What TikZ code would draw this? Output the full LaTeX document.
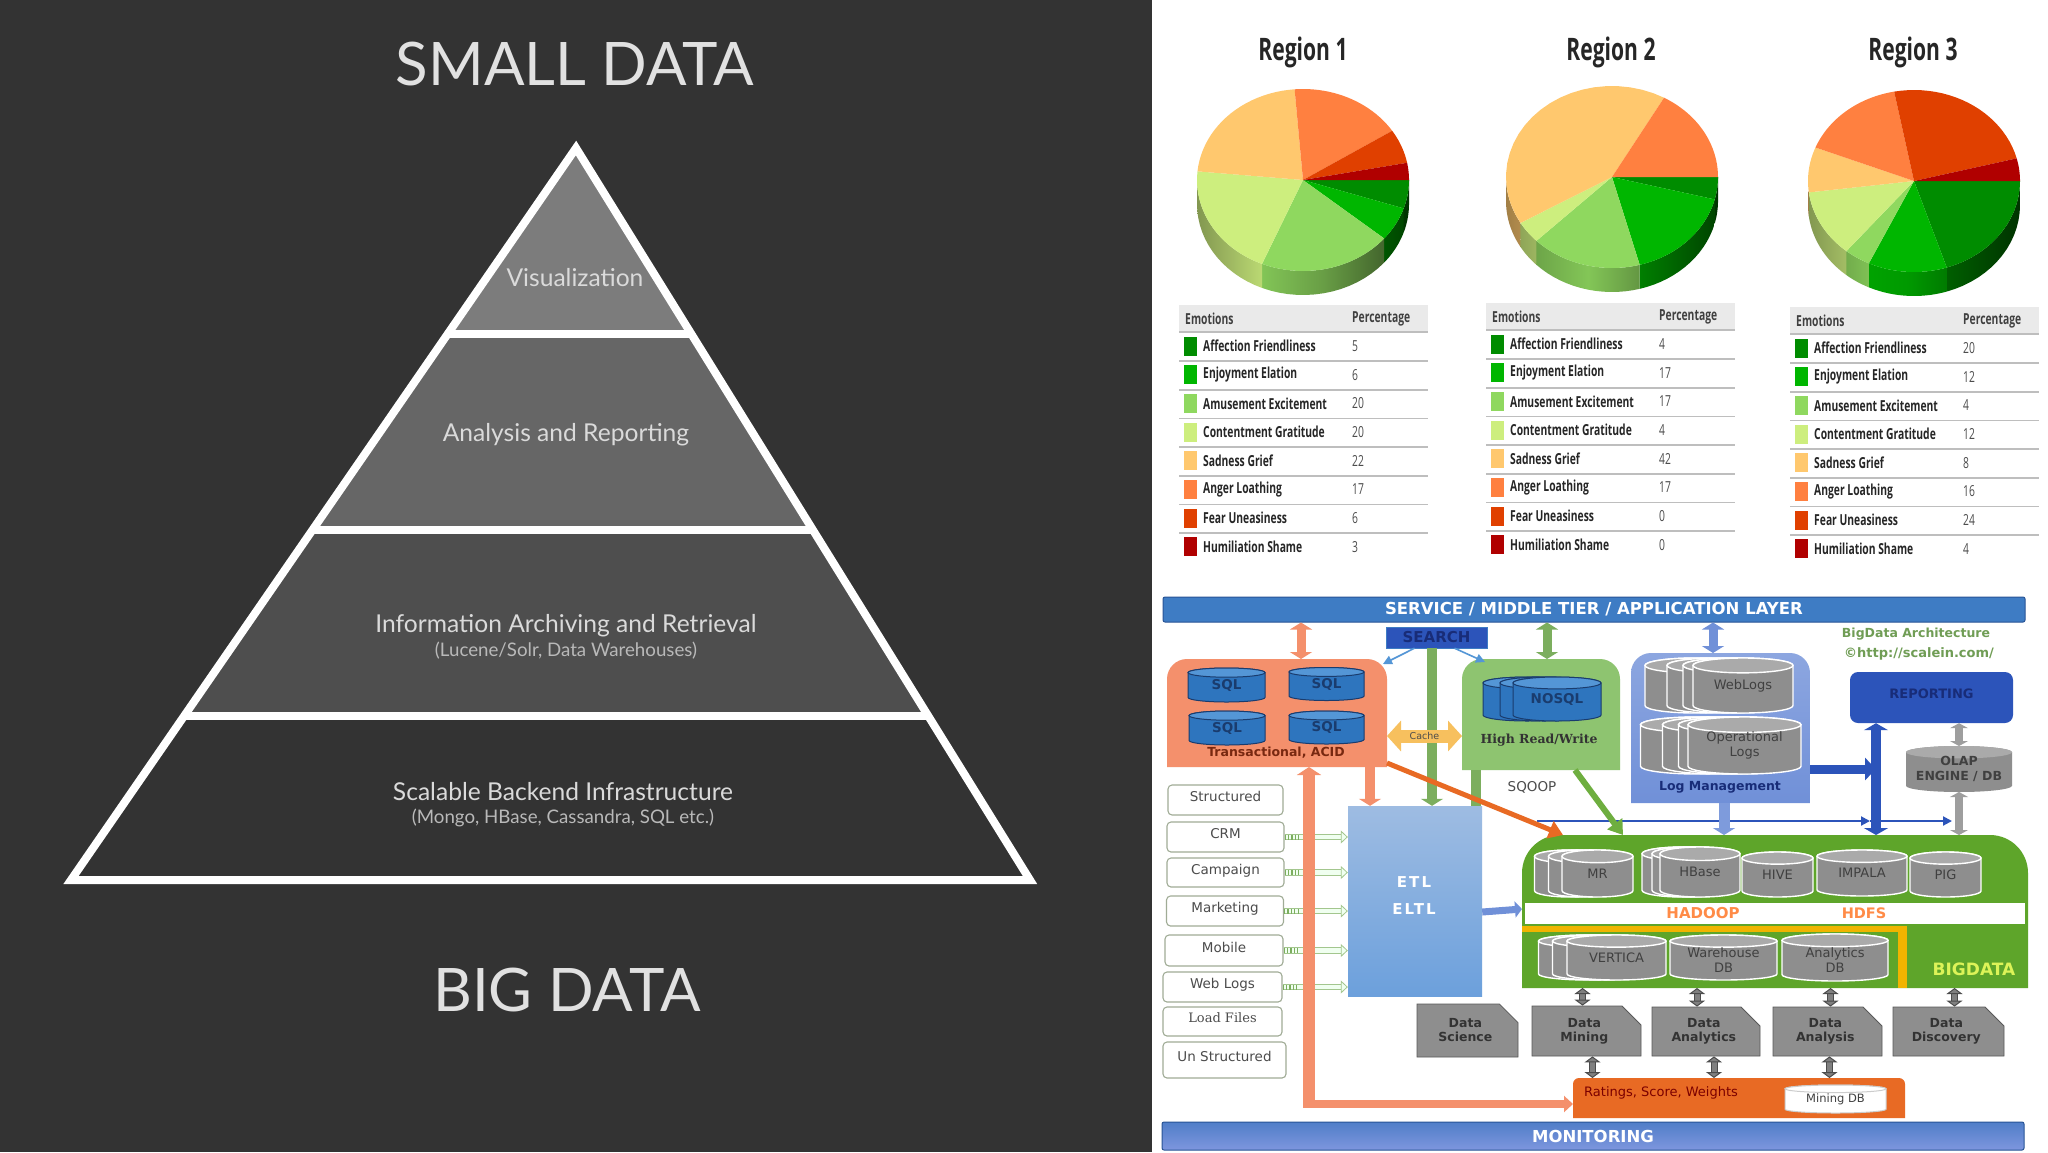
\documentclass[tikz,border=0pt]{standalone}
\usepackage{fontspec}
\setmainfont{DejaVu Sans}
\newfontfamily\pyramidfont{Lato}
\newfontfamily\piefont[FakeStretch=0.68]{Open Sans}
\newfontfamily\slabfont{DejaVu Serif}
\usetikzlibrary{arrows.meta, positioning, shapes.misc, fit, calc}

\definecolor{panelGray}{RGB}{51, 51, 51}
\definecolor{tierOne}{RGB}{124, 124, 124}
\definecolor{tierTwo}{RGB}{102, 102, 102}
\definecolor{tierThree}{RGB}{78, 78, 78}
\definecolor{tierText}{RGB}{218, 218, 218}
\definecolor{emo1}{RGB}{0, 140, 0}
\definecolor{emo2}{RGB}{0, 182, 0}
\definecolor{emo3}{RGB}{143, 216, 95}
\definecolor{emo4}{RGB}{205, 238, 126}
\definecolor{emo5}{RGB}{255, 200, 110}
\definecolor{emo6}{RGB}{255, 128, 64}
\definecolor{emo7}{RGB}{224, 64, 0}
\definecolor{emo8}{RGB}{176, 0, 0}
\definecolor{headGray}{RGB}{234, 234, 234}
\definecolor{ruleGray}{RGB}{190, 190, 190}
\definecolor{barBlue}{RGB}{62, 124, 196}
\definecolor{barEdge}{RGB}{40, 84, 150}
\definecolor{deepBlue}{RGB}{44, 84, 186}
\definecolor{navyText}{RGB}{24, 44, 120}
\definecolor{dbBlue}{RGB}{46, 117, 190}
\definecolor{dbTop}{RGB}{84, 150, 214}
\definecolor{dbEdge}{RGB}{26, 60, 110}
\definecolor{salmonFill}{RGB}{244, 144, 108}
\definecolor{salmonText}{RGB}{120, 40, 16}
\definecolor{leafGreen}{RGB}{142, 196, 112}
\definecolor{stemGreen}{RGB}{124, 174, 94}
\definecolor{srcEdge}{RGB}{160, 172, 150}
\definecolor{hadoopGreen}{RGB}{94, 165, 42}
\definecolor{amberBand}{RGB}{240, 180, 0}
\definecolor{logBlue}{RGB}{112, 144, 216}
\definecolor{etlTop}{RGB}{158, 188, 226}
\definecolor{etlBottom}{RGB}{108, 160, 220}
\definecolor{cacheGold}{RGB}{247, 192, 94}
\definecolor{diskGray}{RGB}{142, 142, 142}
\definecolor{diskTop}{RGB}{170, 170, 170}
\definecolor{rateOrange}{RGB}{232, 106, 36}
\definecolor{monTop}{RGB}{80, 126, 200}
\definecolor{monBottom}{RGB}{126, 150, 222}

\newcommand{\px}[2]{\fontsize{#1}{#2}\selectfont}

% pie: centre x, centre y, total, values
\newcommand{\emopie}[4]{
  \gdef\pieStart{0}
  \foreach \v [count=\i] in {#4} {
    \pgfmathsetmacro\pieEnd{\pieStart+\v*360/#3}
    \pgfmathsetmacro\sideEnd{min(\pieEnd,180)}
    \ifdim\v pt>0pt \ifdim\pieStart pt<180pt
      \pgfmathsetmacro\cosR{cos(\pieStart)}
      \pgfmathsetmacro\cosL{cos(\sideEnd)}
      \pgfmathsetmacro\lumL{95-45*abs(\cosL+0.3)}
      \pgfmathsetmacro\lumM{95-45*abs((\cosL+\cosR)/2+0.3)}
      \pgfmathsetmacro\lumR{95-45*abs(\cosR+0.3)}
      \shade[left color=emo\i!\lumL!black, right color=emo\i!\lumR!black, middle color=emo\i!\lumM!black]
        plot[domain=\pieStart:\sideEnd, samples=16] ({#1+106*cos(\x)},{#2+91*sin(\x)})
        -- plot[domain=\sideEnd:\pieStart, samples=16] ({#1+106*cos(\x)},{#2+24+91*sin(\x)}) -- cycle;
    \fi \fi
    \xdef\pieStart{\pieEnd}
  }
  \gdef\pieStart{0}
  \foreach \v [count=\i] in {#4} {
    \pgfmathsetmacro\pieEnd{\pieStart+\v*360/#3}
    \ifdim\v pt>0pt
      \fill[emo\i] (#1,#2) -- plot[domain=\pieStart:\pieEnd, samples=24] ({#1+106*cos(\x)},{#2+91*sin(\x)}) -- cycle;
    \fi
    \xdef\pieStart{\pieEnd}
  }
}

% table: tag, left x, top y, values
\newcommand{\emotable}[4]{
  \fill[headGray] (#2,#3) rectangle ({#2+249},{#3+27});
  \draw[tablerule] (#2,{#3+27}) -- ({#2+249},{#3+27});
  \node[emohead, anchor=west] (#1emo) at ({#2+6},{#3+14}) {Emotions};
  \node[emohead, anchor=west] (#1pct) at ({#2+173},{#3+14}) {Percentage};
  \foreach \lab [count=\i] in {Affection Friendliness, Enjoyment Elation, Amusement Excitement,
      Contentment Gratitude, Sadness Grief, Anger Loathing, Fear Uneasiness, Humiliation Shame} {
    \pgfmathtruncatemacro\val{{#4}[\i-1]}
    \pgfmathsetmacro\rowy{#3+41+(\i-1)*28.7}
    \node[swatch, fill=emo\i] (#1sw\i) at ({#2+11.5},\rowy) {};
    \node[emolabel, anchor=west] (#1lab\i) at ({#2+24},\rowy) {\lab};
    \node[emovalue, anchor=west] (#1val\i) at ({#2+173},\rowy) {\val};
    \ifnum\i<8 \draw[tablerule] (#2,{\rowy+15}) -- ({#2+249},{\rowy+15}); \fi
  }
}

% box with round top corners: name, x1, y1, x2, y2, look, radius
\newcommand{\tabbox}[7]{
  \path[#6] (#2,#5) [rounded corners=#7] -- (#2,#3) -- (#4,#3) [sharp corners] -- (#4,#5) -- cycle;
  \node[fit={(#2,#3)(#4,#5)}, inner sep=0pt, outer sep=0pt] (#1) {};
}

% drum: look, end fill, name, cx, cy, w, h, text, text look
\newcommand{\drum}[9]{
  \pgfmathsetmacro\drumRx{#6/2}
  \pgfmathsetmacro\drumRy{#7*0.135}
  \pgfmathsetmacro\drumL{#4-\drumRx}
  \pgfmathsetmacro\drumR{#4+\drumRx}
  \pgfmathsetmacro\drumT{#5-#7/2+\drumRy}
  \pgfmathsetmacro\drumB{#5+#7/2-\drumRy}
  \path[#1] (\drumL,\drumT) -- (\drumL,\drumB)
    arc[start angle=180, end angle=360, x radius=\drumRx pt, y radius=\drumRy pt]
    -- (\drumR,\drumT) arc[start angle=0, end angle=180, x radius=\drumRx pt, y radius=\drumRy pt] -- cycle;
  \path[#1, fill=#2] (#4,\drumT) ellipse[x radius=\drumRx pt, y radius=\drumRy pt];
  \node[minimum width=#6 pt, minimum height=#7 pt, inner sep=0pt, outer sep=0pt, #9] (#3) at (#4,#5) {#8};
}

\begin{document}
\begin{tikzpicture}[
    x=1pt, y=-1pt,
    title/.style={font=\pyramidfont\px{60}{70}, text=tierText!80!white},
    tierlabel/.style={font=\pyramidfont\px{24.6}{28}, text=tierText, align=center},
    tiersub/.style={font=\pyramidfont\px{18.7}{20}, text=tierText!85!black, align=center},
    pyramidline/.style={draw=white, line width=8pt, line join=miter},
    regionlabel/.style={font=\piefont\bfseries\px{31}{36}, text=black!85},
    emohead/.style={font=\piefont\bfseries\px{15.2}{16}, text=black!75, inner sep=0pt},
    emolabel/.style={font=\piefont\bfseries\px{15.2}{16}, text=black!85, inner sep=0pt},
    emovalue/.style={font=\piefont\px{15.2}{16}, text=black!70, inner sep=0pt},
    swatch/.style={rectangle, minimum width=13pt, minimum height=19pt, inner sep=0pt},
    tablerule/.style={draw=ruleGray, line width=1.6pt},
    bar/.style={rectangle, draw=barEdge, line width=1pt, rounded corners=2pt, inner sep=0pt,
      font=\bfseries\px{16.5}{18}, text=white},
    srcbox/.style={rectangle, draw=srcEdge, line width=1.1pt, rounded corners=4pt,
      fill=white, inner sep=0pt, font=\px{13.5}{15}, text=black!70, text depth=7pt},
    dbbody/.style={fill=dbBlue, draw=dbEdge, line width=1pt},
    dbtext/.style={font=\bfseries\px{13.5}{15}, text=dbEdge},
    diskbody/.style={fill=diskGray, draw=white, line width=1.4pt},
    disktext/.style={font=\px{13}{15}, text=black!75, align=center},
    notebox/.style={chamfered rectangle, chamfered rectangle corners=north east,
      chamfered rectangle xsep=12pt, chamfered rectangle ysep=7pt, inner sep=0pt,
      fill=diskGray, draw=black!65, line width=0.8pt, align=center,
      font=\bfseries\px{12.5}{14}, text=black!80,
      execute at end node={\\[-8pt]~}},
    boldlabel/.style={font=\bfseries\px{#1}{#1}, inner sep=0pt},
    plainlabel/.style={font=\px{#1}{#1}, inner sep=0pt},
    salmonboth/.style={draw=salmonFill, line width=9pt, {Triangle[length=7pt,width=22pt]}-{Triangle[length=7pt,width=22pt]}},
    greenboth/.style={draw=stemGreen, line width=9pt, {Triangle[length=7pt,width=22pt]}-{Triangle[length=7pt,width=22pt]}},
    blueboth/.style={draw=logBlue, line width=9pt, {Triangle[length=7pt,width=22pt]}-{Triangle[length=7pt,width=22pt]}},
    fatdown/.style={line width=#1, -{Triangle[length=7pt,width=22pt]}},
    thinarrow/.style={line width=#1, -{Triangle[length=9pt,width=9pt]}},
    grayboth/.style={draw=black!70, double=gray, double distance=5pt, line width=1pt,
      {Triangle[length=6pt,width=16pt,fill=gray]}-{Triangle[length=6pt,width=16pt,fill=gray]}},
    paleboth/.style={draw=black!38, line width=8pt, {Triangle[length=5pt,width=18pt]}-{Triangle[length=5pt,width=18pt]}},
    feedarrow/.style={draw=stemGreen!70, double=green!6, double distance=4.5pt, line width=0.8pt,
      -{Triangle[length=7pt,width=13pt,fill=green!6]}},
    feedticks/.style={draw=stemGreen, line width=5pt, dash pattern=on 1.2pt off 2.2pt},
  ]
  \useasboundingbox (0,0) rectangle (2048,1152);
  \fill[white] (0,0) rectangle (2048,1152);
  \fill[panelGray] (0,0) rectangle (1152,1152);

  % Pyramid
  \begin{scope}
    \clip (576,148) -- (1030,880) -- (71,880) -- cycle;
    \fill[tierOne] (0,140) rectangle (1152,334);
    \fill[tierTwo] (0,334) rectangle (1152,530);
    \fill[tierThree] (0,530) rectangle (1152,716);
    \draw[pyramidline] (0,334) -- (1152,334);
    \draw[pyramidline] (0,530) -- (1152,530);
    \draw[pyramidline] (0,716) -- (1152,716);
  \end{scope}
  \draw[pyramidline] (576,148) -- (1030,880) -- (71,880) -- cycle;

  \node[title] (smalldata) at (575,64) {SMALL DATA};
  \node[title] (bigdatatitle) at (567,990) {BIG DATA};
  \node[tierlabel] (vis) at (575,278) {Visualization};
  \node[tierlabel] (analysis) at (566,435) {Analysis and Reporting};
  \node[tierlabel] (archive) at (566,626) {Information Archiving and Retrieval};
  \node[tiersub] (archivesub) at (566,651) {(Lucene/Solr, Data Warehouses)};
  \node[tierlabel] (backend) at (563,792) {Scalable Backend Infrastructure};
  \node[tiersub] (backendsub) at (563,818) {(Mongo, HBase, Cassandra, SQL etc.)};

  % Regions
  \node[regionlabel] (regionA) at (1303,52) {Region 1};
  \node[regionlabel] (regionB) at (1611,52) {Region 2};
  \node[regionlabel] (regionC) at (1913,52) {Region 3};
  \emopie{1303}{180}{99}{5,6,20,20,22,17,6,3}
  \emopie{1612}{177}{101}{4,17,17,4,42,17,0,0}
  \emopie{1914}{181}{100}{20,12,4,12,8,16,24,4}
  \emotable{ta}{1179}{305}{5,6,20,20,22,17,6,3}
  \emotable{tb}{1486}{303}{4,17,17,4,42,17,0,0}
  \emotable{tc}{1790}{307}{20,12,4,12,8,16,24,4}

  % Top and bottom layers
  \node[bar, fill=barBlue, minimum width=862pt, minimum height=25pt] (service) at (1594,609.5) {SERVICE / MIDDLE TIER / APPLICATION LAYER};
  \node[bar, top color=monTop, bottom color=monBottom, minimum width=862pt, minimum height=28pt] (monitor) at (1593,1136) {MONITORING};
  \node[rectangle, fill=deepBlue, draw=barBlue, minimum width=101pt, minimum height=21pt, inner sep=0pt,
    font=\bfseries\px{15}{17}, text=navyText] (search) at (1436.5,637.5) {SEARCH};

  % Stores
  \tabbox{trans}{1167}{659}{1387}{767}{fill=salmonFill}{20pt}
  \tabbox{high}{1462}{659}{1620}{770}{fill=leafGreen}{20pt}
  \tabbox{logs}{1631}{653}{1810}{803}{top color=logBlue!80!white, bottom color=logBlue}{20pt}
  \tabbox{bigdata}{1522}{835}{2028}{988}{fill=hadoopGreen}{38pt}

  \node[rectangle, fill=etlBottom, top color=etlTop, bottom color=etlBottom, minimum width=134pt, minimum height=190pt] (etl) at (1415,901) {};

  % Search and ETL connectors
  \coordinate (greenLong) at (1432,0);
  \coordinate (greenShort) at (1476,0);
  \coordinate (salmonDown) at (1370,0);
  \draw[fatdown=10pt, draw=stemGreen] (search.south -| greenLong) -- (etl.north -| greenLong);
  \draw[line width=10pt, draw=stemGreen] (high.south -| greenShort) -- (etl.north -| greenShort);
  \draw[fatdown=10pt, draw=salmonFill] (trans.south -| salmonDown) -- (etl.north -| salmonDown);
  \draw[thinarrow=1.6pt, draw=dbTop] ($(search.south)+(-22,0)$) -- ($(trans.north east)+(-4,5)$);
  \draw[thinarrow=1.6pt, draw=dbTop] ($(search.south)+(18,0)$) -- ($(high.north west)+(23,3)$);

  \coordinate (salmonTop) at (1301,0);
  \coordinate (greenTop) at (1547,0);
  \coordinate (blueTop) at (1713,0);
  \draw[salmonboth] (service.south -| salmonTop) -- (trans.north -| salmonTop);
  \draw[greenboth] (service.south -| greenTop) -- (high.north -| greenTop);
  \draw[blueboth] (service.south -| blueTop) -- (logs.north -| blueTop);

  % Sql stores
  \drum{dbbody}{dbTop}{sqlA}{1226.5}{685}{77}{34}{SQL}{dbtext}
  \drum{dbbody}{dbTop}{sqlB}{1326.5}{684}{75}{33}{SQL}{dbtext}
  \drum{dbbody}{dbTop}{sqlC}{1227}{728}{76}{34}{SQL}{dbtext}
  \drum{dbbody}{dbTop}{sqlD}{1326.5}{727.5}{75}{33}{SQL}{dbtext}
  \node[boldlabel=12.5, text=salmonText] (transname) at (1276,753) {Transactional, ACID};

  \drum{dbbody}{dbTop}{nosqlC}{1527}{699}{88}{44}{}{dbtext}
  \drum{dbbody}{dbTop}{nosqlB}{1544}{699}{88}{44}{}{dbtext}
  \drum{dbbody}{dbTop}{nosql}{1557}{699}{88}{44}{NOSQL}{dbtext}
  \node[font=\slabfont\bfseries\px{12.5}{14}, inner sep=0pt, text=black!80] (highname) at (1539,740) {High Read/Write};

  \foreach \cx/\tag in {1695/webC, 1717/webB, 1733/webA}
    \drum{diskbody}{diskTop}{\tag}{\cx}{685.5}{100}{55}{}{disktext};
  \drum{diskbody}{diskTop}{weblogs}{1743}{685.5}{100}{55}{WebLogs}{disktext}
  \foreach \cx/\tag in {1697/opC, 1719/opB, 1735/opA}
    \drum{diskbody}{diskTop}{\tag}{\cx}{745.5}{113}{57}{}{disktext};
  \drum{diskbody}{diskTop}{oplogs}{1744.5}{745.5}{113}{57}{Operational\\Logs}{disktext}
  \node[boldlabel=12.5, text=navyText] (logname) at (1720,787) {Log Management};

  % Cache
  \coordinate (cacheLine) at (0,736);
  \draw[draw=cacheGold, line width=13pt, {Triangle[length=14pt,width=30pt]}-{Triangle[length=14pt,width=30pt]}]
    (trans.east |- cacheLine) -- node[plainlabel=9.5, text=black!70] (cachename) {Cache} (high.west |- cacheLine);

  \node[plainlabel=13.5, text=black!70] (sqoop) at (1532,787) {SQOOP};
  \node[boldlabel=12.5, text=stemGreen!90!black] (archname) at (1916,634) {BigData Architecture};
  \node[boldlabel=13, text=stemGreen!90!black] (archurl) at (1919,654) {©http://scalein.com/};

  % Reporting side
  \node[rectangle, rounded corners=8pt, fill=deepBlue, minimum width=163pt, minimum height=51pt, inner sep=0pt,
    text depth=8pt, font=\bfseries\px{13}{15}, text=navyText] (reporting) at (1931.5,697.5) {REPORTING};
  \drum{fill=diskGray}{diskTop}{olap}{1959}{769}{106}{46}{OLAP\\ENGINE / DB}{disktext, font=\bfseries\px{12.5}{15}}

  \coordinate (blueVert) at (1876,0);
  \coordinate (fatLine) at (0,769);
  \coordinate (thinStart) at (1537,821);
  \coordinate (thinMid) at (1870,821);
  \coordinate (thinEnd) at (1952,821);
  \draw[line width=9pt, draw=deepBlue, -{Triangle[length=11pt,width=22pt]}] (logs.east |- fatLine) -- (blueVert |- fatLine);
  \draw[line width=10pt, draw=deepBlue, {Triangle[length=7pt,width=24pt]}-{Triangle[length=7pt,width=24pt]}] (reporting.south -| blueVert) -- (bigdata.north -| blueVert);
  \draw[thinarrow=2pt, draw=deepBlue] (thinStart) -- (thinMid);
  \draw[thinarrow=2pt, draw=deepBlue] (thinMid) -- (thinEnd);
  \draw[paleboth] (reporting.south -| olap) -- (olap.north);
  \draw[paleboth] (olap.south) -- (bigdata.north -| olap);

  \coordinate (logDown) at (1724,0);
  \draw[fatdown=11pt, draw=logBlue!90!white] (logs.south -| logDown) -- (bigdata.north -| logDown);

  % Bigdata block
  \node[rectangle, fill=white, minimum width=500pt, minimum height=21pt, inner sep=0pt] (hdfsband) at (1775,913.5) {};
  \fill[amberBand] (1522,926) rectangle (1907,932);
  \fill[amberBand] (1898,926) rectangle (1907,988);
  \node[boldlabel=15, text=emo6!85!emo5] (hadoopname) at (1703,913) {HADOOP};
  \node[boldlabel=14.5, text=emo6!85!emo5] (hdfsname) at (1864,913) {HDFS};
  \node[boldlabel=17, text=emo4!70!yellow] (bigname) at (1974,969) {BIGDATA};

  \foreach \cx/\tag in {1570/mrC, 1584/mrB}
    \drum{diskbody}{diskTop}{\tag}{\cx}{873.5}{71}{47}{}{disktext};
  \drum{diskbody}{diskTop}{mr}{1597.5}{873.5}{71}{47}{MR}{disktext}
  \foreach \cx/\tag in {1682/hbaseC, 1692/hbaseB}
    \drum{diskbody}{diskTop}{\tag}{\cx}{872}{80}{50}{}{disktext};
  \drum{diskbody}{diskTop}{hbase}{1700}{872}{80}{50}{HBase}{disktext}
  \drum{diskbody}{diskTop}{hive}{1777.5}{874.5}{71}{45}{HIVE}{disktext}
  \drum{diskbody}{diskTop}{impala}{1862}{873}{90}{46}{IMPALA}{disktext}
  \drum{diskbody}{diskTop}{pig}{1945.5}{874.5}{71}{45}{PIG}{disktext}
  \foreach \cx/\tag in {1588/verticaC, 1602/verticaB}
    \drum{diskbody}{diskTop}{\tag}{\cx}{957.5}{99}{45}{}{disktext};
  \drum{diskbody}{diskTop}{vertica}{1616.5}{957.5}{99}{45}{VERTICA}{disktext}
  \drum{diskbody}{diskTop}{warehouse}{1723.5}{957.5}{107}{45}{Warehouse\\DB}{disktext, yshift=-3pt}
  \drum{diskbody}{diskTop}{analytics}{1835}{957.5}{106}{47}{Analytics\\DB}{disktext, yshift=-3pt}

  % Sources
  \node[srcbox, minimum width=115pt, minimum height=30pt] (structured) at (1225.5,800) {Structured};
  \node[srcbox, minimum width=117pt, minimum height=30pt] (crm) at (1225.5,837) {CRM};
  \node[srcbox, minimum width=117pt, minimum height=29pt] (campaign) at (1225.5,872.5) {Campaign};
  \node[srcbox, minimum width=117pt, minimum height=30pt] (marketing) at (1225,911) {Marketing};
  \node[srcbox, minimum width=118pt, minimum height=31pt] (mobile) at (1224,950.5) {Mobile};
  \node[srcbox, minimum width=119pt, minimum height=30pt] (weblogsrc) at (1222.5,987) {Web Logs};
  \node[srcbox, minimum width=119pt, minimum height=29pt, font=\slabfont\px{13}{15}] (loadfiles) at (1222.5,1021.5) {Load Files};
  \node[srcbox, minimum width=123pt, minimum height=36pt] (unstructured) at (1224.5,1060) {Un Structured};

  \foreach \src in {crm, campaign, marketing, mobile, weblogsrc} {
    \draw[feedarrow] (\src.east) -- (etl.west |- \src.east);
    \draw[feedticks] (\src.east) -- ($(\src.east)+(16,0)$);
  }

  % Salmon feed
  \coordinate (salmonBar) at (1309,0);
  \coordinate (salmonLine) at (0,1104);
  \draw[line width=12pt, draw=salmonFill, -{Triangle[length=8pt,width=24pt]}] (salmonBar |- salmonLine) -- (salmonBar |- trans.south);
  \tabbox{ratings}{1573}{1078}{1905}{1118}{fill=rateOrange}{6pt}
  \draw[line width=8pt, draw=salmonFill, -{Triangle[length=9pt,width=16pt]}] ($(salmonBar |- salmonLine)+(-6,0)$) -- (ratings.west |- salmonLine);
  \node[plainlabel=13, text=emo8!70!black, anchor=west] (ratename) at (1584,1093) {Ratings, Score, Weights};
  \drum{fill=white, draw=black!20, line width=1pt}{white}{miningdb}{1835.5}{1099}{101}{28}{Mining DB}{disktext, font=\px{11.5}{13}}

  \node[rectangle, inner sep=0pt, font=\bfseries\addfontfeature{LetterSpace=14}\px{15}{17}, text=white] (etlname) at (1414,882) {ETL};
  \node[rectangle, inner sep=0pt, font=\bfseries\addfontfeature{LetterSpace=14}\px{15}{17}, text=white] (eltlname) at (1414,909) {ELTL};

  \draw[line width=7pt, draw=logBlue, -{Triangle[length=7pt,width=16pt]}] (etl.east |- eltlname) ++(0,3) -- (bigdata.west |- eltlname);

  % Data boxes
  \node[notebox, minimum width=101pt, minimum height=53pt] (science) at (1467.5,1030.5) {Data\\Science};
  \node[notebox, minimum width=109pt, minimum height=50pt] (mining) at (1586.5,1031) {Data\\Mining};
  \node[notebox, minimum width=108pt, minimum height=49pt] (dataanalytics) at (1706,1031.5) {Data\\Analytics};
  \node[notebox, minimum width=109pt, minimum height=49pt] (dataanalysis) at (1827.5,1031.5) {Data\\Analysis};
  \node[notebox, minimum width=111pt, minimum height=49pt] (discovery) at (1948.5,1031.5) {Data\\Discovery};

  \foreach \dst/\dx in {mining/-4, dataanalytics/-9, dataanalysis/3, discovery/6}
    \draw[grayboth] ($(bigdata.south -| \dst.north)+(\dx,0)$) -- ($(\dst.north)+(\dx,0)$);
  \foreach \dst/\dx in {mining/6, dataanalytics/8, dataanalysis/2}
    \draw[grayboth] ($(\dst.south)+(\dx,0)$) -- ($(ratings.north -| \dst.south)+(\dx,0)$);

  % Diagonal feeds into bigdata
  \coordinate (greenFoot) at (1623,835);
  \coordinate (orangeFoot) at (1563,835);
  \draw[line width=6pt, draw=hadoopGreen!90!white, -{Triangle[length=14pt,width=18pt]}] ($(high.south)+(34,0)$) -- (greenFoot);
  \draw[line width=5pt, draw=rateOrange, -{Triangle[length=14pt,width=18pt]}] ($(trans.south east)+(0,-4)$) -- (orangeFoot);
\end{tikzpicture}
\end{document}
